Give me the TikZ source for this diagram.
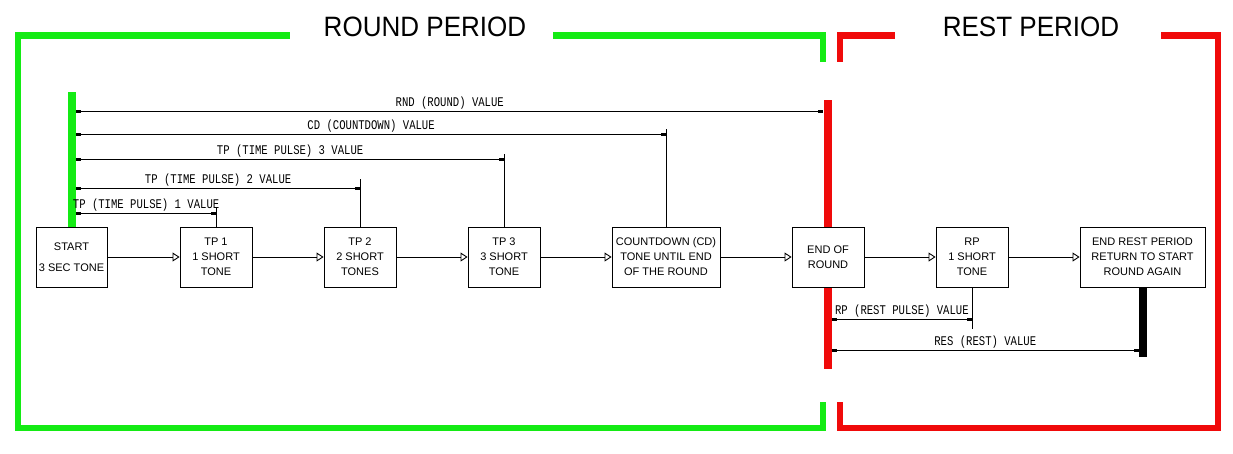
\documentclass[tikz,border=0pt]{standalone}
\usepackage{fontspec}
\setmainfont{Liberation Sans}
\newfontfamily\cadfont{Liberation Mono}
\usetikzlibrary{arrows.meta}
\definecolor{pgreen}{RGB}{20,235,20}
\definecolor{pred}{RGB}{240,10,10}
\tikzset{
  bracketG/.style={draw=pgreen, line width=6.5pt, line cap=rect},
  bracketR/.style={draw=pred, line width=6.5pt, line cap=rect},
  bar/.style={inner sep=0, minimum width=8pt},
  box/.style={draw, line width=0.9pt, fill=white, inner sep=0, minimum height=60pt,
     align=center, font=\fontsize{11}{15}\selectfont},
  flow/.style={line width=0.9pt, -{Triangle[open, length=7pt, width=9pt]}},
  dim/.style={line width=0.9pt, {Rectangle[length=5pt,width=3pt]}-{Rectangle[length=5pt,width=3pt]}},
  ext/.style={line width=0.9pt},
  lbl/.style={midway, above, inner sep=0pt, yshift=1pt, font=\fontsize{10.6}{11}\cadfont},
  title/.style={font=\fontsize{28}{30}\selectfont, inner sep=0}
}
\newcommand{\cadtxt}[1]{\scalebox{1}[1.25]{#1}}
\begin{document}
\begin{tikzpicture}[x=1pt,y=-1pt]
\useasboundingbox (0,0) rectangle (1233,453);
% outer brackets
\draw[bracketG] (287,35.5) -- (18,35.5) -- (18,428) -- (823,428) -- (823,405);
\draw[bracketG] (556,35.5) -- (823,35.5) -- (823,59);
\draw[bracketR] (892,35.5) -- (840,35.5) -- (840,59);
\draw[bracketR] (1164,35.5) -- (1218,35.5) -- (1218,428) -- (840,428) -- (840,405);
\node[title] (trnd) at (425,27) {\scalebox{0.93}[1]{ROUND PERIOD}};
\node[title] (trst) at (1031,27) {\scalebox{0.93}[1]{REST PERIOD}};
% bars
\node[bar, fill=pgreen, minimum height=136pt] (gbar) at (72,160) {};
\node[bar, fill=pred, minimum height=269pt] (rbar) at (827.5,234.5) {};
\node[bar, fill=black, minimum height=70pt] (kbar) at (1143,322) {};
% boxes
\node[box, minimum width=71pt] (start) at (71.5,257) {START\\[6pt]3 SEC TONE};
\node[box, minimum width=72pt] (tp1) at (216,257) {TP 1\\1 SHORT\\TONE};
\node[box, minimum width=72pt] (tp2) at (360,257) {TP 2\\2 SHORT\\TONES};
\node[box, minimum width=72pt] (tp3) at (504,257) {TP 3\\3 SHORT\\TONE};
\node[box, minimum width=108pt] (cd) at (666,257) {COUNTDOWN (CD)\\TONE UNTIL END\\OF THE ROUND};
\node[box, minimum width=72pt] (eor) at (828,257) {END OF\\ROUND};
\node[box, minimum width=72pt] (rp) at (972,257) {RP\\1 SHORT\\TONE};
\node[box, minimum width=125pt] (endr) at (1142.5,257) {END REST PERIOD\\RETURN TO START\\ROUND AGAIN};
% flow
\draw[flow] (start) -- (tp1);
\draw[flow] (tp1) -- (tp2);
\draw[flow] (tp2) -- (tp3);
\draw[flow] (tp3) -- (cd);
\draw[flow] (cd) -- (eor);
\draw[flow] (eor) -- (rp);
\draw[flow] (rp) -- (endr);
% extension lines
\draw[ext] (tp1.north) -- (tp1.north |- 0,207);
\draw[ext] (tp2.north) -- (tp2.north |- 0,179);
\draw[ext] (tp3.north) -- (tp3.north |- 0,154);
\draw[ext] (cd.north) -- (cd.north |- 0,129);
\draw[ext] (rp.south) -- (rp.south |- 0,329);
% dimension lines
\draw[dim] (gbar.east |- 0,111) -- (rbar.west |- 0,111) node[lbl] {\cadtxt{RND (ROUND) VALUE}};
\draw[dim] (gbar.east |- 0,134) -- (cd.north |- 0,134) node[lbl] {\cadtxt{CD (COUNTDOWN) VALUE}};
\draw[dim] (gbar.east |- 0,159) -- (tp3.north |- 0,159) node[lbl] {\cadtxt{TP (TIME PULSE) 3 VALUE}};
\draw[dim] (gbar.east |- 0,188) -- (tp2.north |- 0,188) node[lbl] {\cadtxt{TP (TIME PULSE) 2 VALUE}};
\draw[dim] (gbar.east |- 0,213) -- (tp1.north |- 0,213) node[lbl] {\cadtxt{TP (TIME PULSE) 1 VALUE}};
\draw[dim] (rbar.east |- 0,319) -- (rp.south |- 0,319) node[lbl] {\cadtxt{RP (REST PULSE) VALUE}};
\draw[dim] (rbar.east |- 0,350) -- (kbar.west |- 0,350) node[lbl] {\cadtxt{RES (REST) VALUE}};
\end{tikzpicture}
\end{document}
